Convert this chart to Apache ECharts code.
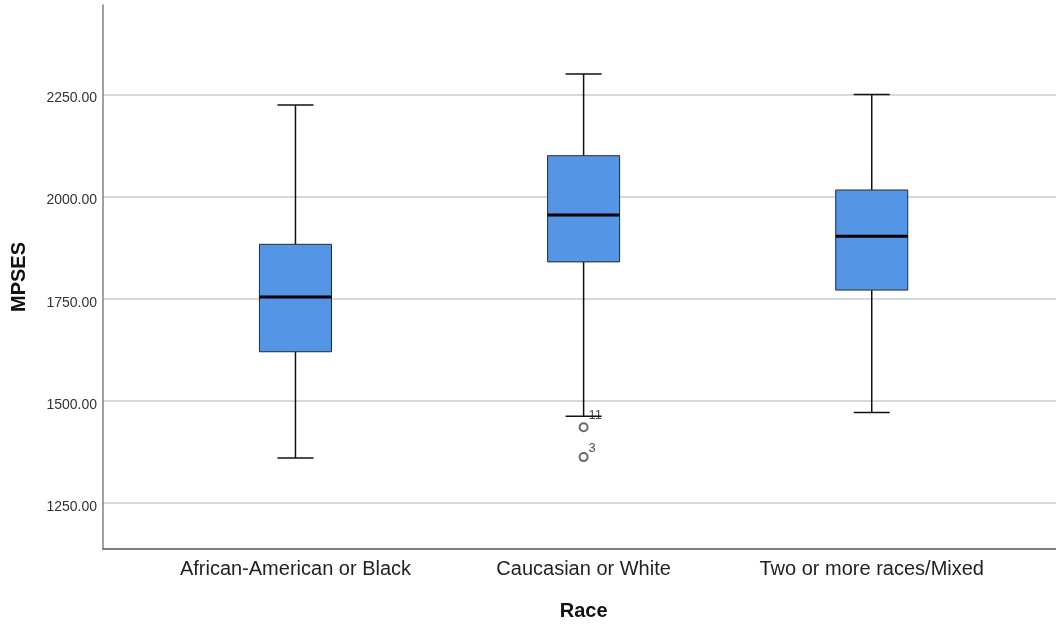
<!DOCTYPE html>
<html>
<head>
<meta charset="utf-8">
<title>MPSES by Race</title>
<script src="https://cdn.jsdelivr.net/npm/echarts@6/dist/echarts.min.js"></script>
<style>
  html, body { margin: 0; padding: 0; background: #ffffff; }
  #chart { width: 1056px; height: 624px; }
</style>
</head>
<body>
<div id="chart"></div>
<script>
// Groups on the horizontal axis
const categories = ['African-American or Black', 'Caucasian or White', 'Two or more races/Mixed'];

// Five-number summary of MPSES for each group
const lowerWhisker = [1360, 1462, 1471];
const q1Values     = [1620, 1840, 1771];
const medians      = [1754, 1955, 1903];
const q3Values     = [1883, 2100, 2016];
const upperWhisker = [2224, 2300, 2250];

// Outlying cases: group index, value, case number
const outlierGroup = [1, 1];
const outlierValue = [1435, 1362];
const outlierCase  = ['11', '3'];

// Value range of the MPSES axis and spacing of its labelled ticks
const yMin = 1137;
const yMax = 2469;
const yStep = 250;

const FONT = '"Liberation Sans", Arial, sans-serif';

const boxData = categories.map((c, i) => [i, lowerWhisker[i], q1Values[i], medians[i], q3Values[i], upperWhisker[i]]);
// case-number labels sit up and to the right of each circle
const outlierLabelOffsets = [[10, -13], [10, -10]];
const outlierData = outlierValue.map((v, i) => ({
  value: [outlierGroup[i], v],
  name: outlierCase[i],
  label: { position: outlierLabelOffsets[i] }
}));

function renderBox(params, api) {
  const x = api.value(0);
  const pLow = api.coord([x, api.value(1)]);
  const pQ1 = api.coord([x, api.value(2)]);
  const pMed = api.coord([x, api.value(3)]);
  const pQ3 = api.coord([x, api.value(4)]);
  const pHigh = api.coord([x, api.value(5)]);
  const band = api.size([1, 0])[0];
  const half = band * 0.125;      // half box width
  const capHalf = band * 0.0625;  // half whisker-cap width
  const cx = pMed[0];
  const lineStyle = { stroke: '#111111', lineWidth: 1.5 };
  return {
    type: 'group',
    children: [
      { type: 'line', shape: { x1: cx, y1: pQ1[1], x2: cx, y2: pLow[1] }, style: lineStyle },
      { type: 'line', shape: { x1: cx, y1: pQ3[1], x2: cx, y2: pHigh[1] }, style: lineStyle },
      { type: 'line', shape: { x1: cx - capHalf, y1: pLow[1], x2: cx + capHalf, y2: pLow[1] }, style: lineStyle },
      { type: 'line', shape: { x1: cx - capHalf, y1: pHigh[1], x2: cx + capHalf, y2: pHigh[1] }, style: lineStyle },
      {
        type: 'rect',
        shape: { x: cx - half, y: pQ3[1], width: half * 2, height: pQ1[1] - pQ3[1] },
        style: { fill: '#5595e5', stroke: '#2a2a2a', lineWidth: 1 }
      },
      { type: 'line', shape: { x1: cx - half, y1: pMed[1], x2: cx + half, y2: pMed[1] }, style: { stroke: '#000000', lineWidth: 3 } }
    ]
  };
}

const chart = echarts.init(document.getElementById('chart'), null, { renderer: 'canvas' });

const sharedY = {
  type: 'value',
  min: yMin,
  max: yMax,
  minInterval: yStep,
  maxInterval: yStep
};

chart.setOption({
  animation: false,
  backgroundColor: '#ffffff',
  grid: [
    { left: 103, right: 0, top: 5, bottom: 75, outerBoundsMode: 'none' },
    { left: 151.4, right: 40.2, top: 5, bottom: 75, outerBoundsMode: 'none' }
  ],
  xAxis: [
    {
      gridIndex: 0,
      type: 'value',
      min: 0,
      max: 1,
      axisLine: { show: true, onZero: false, lineStyle: { color: '#555555', width: 1.5 } },
      axisTick: { show: false },
      axisLabel: { show: false },
      splitLine: { show: false }
    },
    {
      gridIndex: 1,
      type: 'category',
      data: categories,
      boundaryGap: true,
      axisLine: { show: false },
      axisTick: { show: false },
      axisLabel: { interval: 0, hideOverlap: false, color: '#222222', fontSize: 20, fontFamily: FONT, margin: 10 },
      name: 'Race',
      nameLocation: 'middle',
      nameGap: 52,
      nameTextStyle: { color: '#111111', fontSize: 20, fontWeight: 'bold', fontFamily: FONT }
    }
  ],
  yAxis: [
    Object.assign({}, sharedY, {
      gridIndex: 0,
      axisLine: { show: true, lineStyle: { color: '#808080', width: 1.5 } },
      axisTick: { show: false },
      axisLabel: {
        color: '#333333', fontSize: 14, fontFamily: FONT, margin: 6,
        verticalAlign: 'top', lineHeight: 8,
        showMinLabel: false, showMaxLabel: false,
        formatter: v => v.toFixed(2)
      },
      splitLine: { show: true, showMinLine: false, showMaxLine: false, lineStyle: { color: '#cccccc', width: 1.5 } },
      name: 'MPSES',
      nameLocation: 'middle',
      nameGap: 74,
      nameTextStyle: { color: '#111111', fontSize: 20, fontWeight: 'bold', fontFamily: FONT }
    }),
    Object.assign({}, sharedY, {
      gridIndex: 1,
      show: false,
      splitLine: { show: false }
    })
  ],
  series: [
    {
      type: 'custom',
      xAxisIndex: 1,
      yAxisIndex: 1,
      renderItem: renderBox,
      encode: { x: 0, y: [1, 2, 3, 4, 5] },
      data: boxData,
      z: 3
    },
    {
      type: 'scatter',
      xAxisIndex: 1,
      yAxisIndex: 1,
      symbol: 'emptyCircle',
      symbolSize: 8,
      itemStyle: { color: '#444444', borderColor: '#444444', borderWidth: 1 },
      label: {
        show: true,
        formatter: p => p.name,
        align: 'left',
        verticalAlign: 'top',
        color: '#222222',
        fontSize: 13,
        fontFamily: FONT
      },
      data: outlierData,
      z: 4
    }
  ]
});
</script>
</body>
</html>
